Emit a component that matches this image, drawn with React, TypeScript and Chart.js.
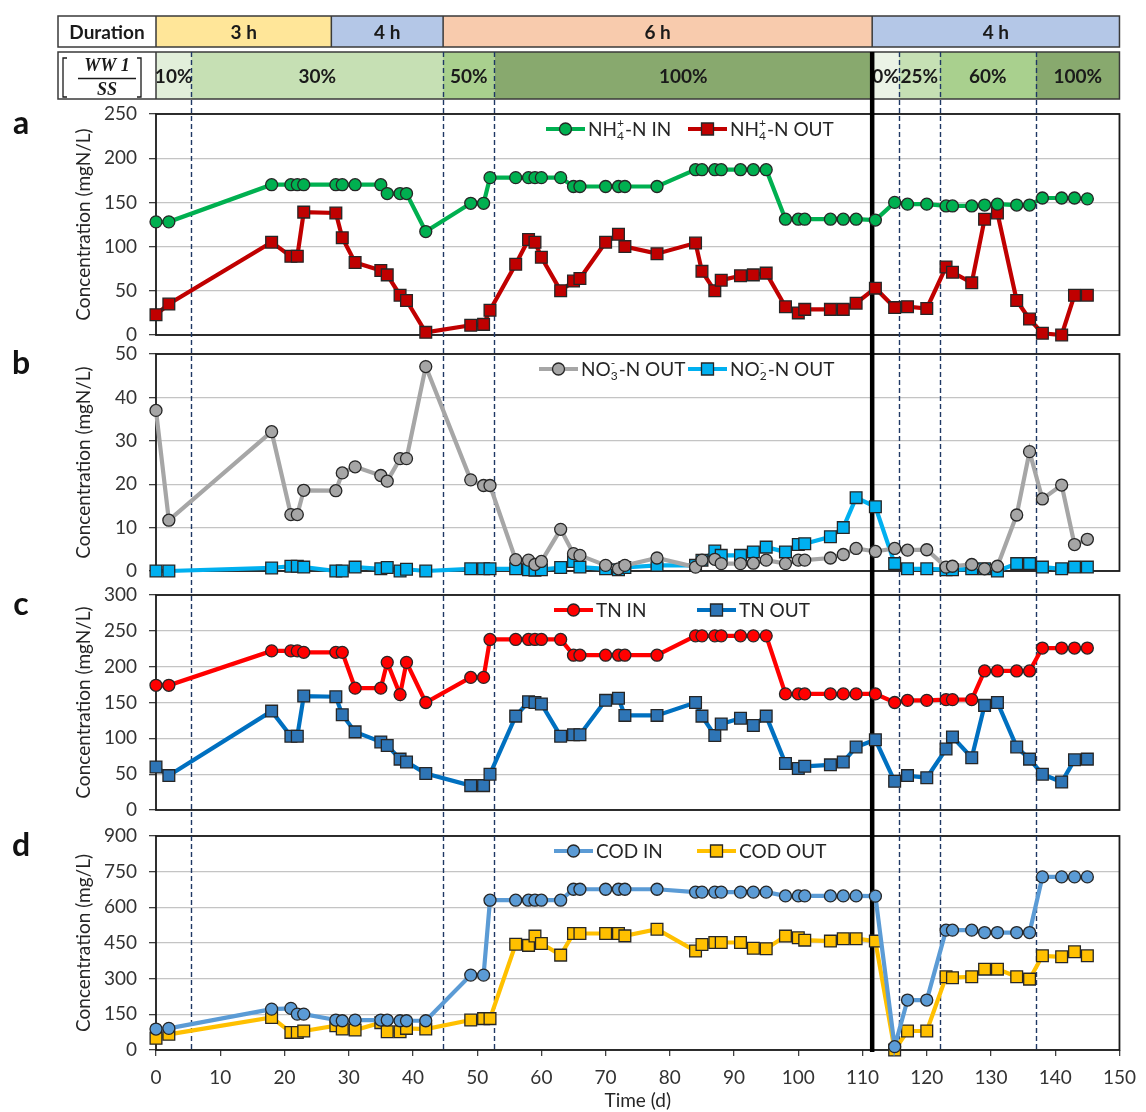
import React, { useEffect, useRef } from 'react';
import { Chart, registerables } from 'chart.js';

Chart.register(...registerables);

// ---------------- DATA ----------------
const days = [0, 2, 18, 21, 22, 23, 28, 29, 31, 35, 36, 38, 39, 42, 49, 51, 52, 56, 58, 59, 60, 63, 65, 66, 70, 72, 73, 78, 84, 85, 87, 88, 91, 93, 95, 98, 100, 101, 105, 107, 109, 112, 115, 117, 120, 123, 124, 127, 129, 131, 134, 136, 138, 141, 143, 145];

const nh4In = [128, 128, 170, 170, 170, 170, 170, 170, 170, 170, 160, 160, 160, 117, 149, 149, 178, 178, 178, 178, 178, 178, 168, 168, 168, 168, 168, 168, 187, 187, 187, 187, 187, 187, 187, 131, 131, 131, 131, 131, 131, 130, 150, 148, 148, 146, 146, 146, 147, 148, 147, 147, 155, 155, 155, 154];
const nh4Out = [23, 35, 105, 89, 89, 139, 138, 110, 82, 73, 68, 45, 39, 3, 11, 12, 28, 80, 108, 105, 88, 50, 61, 64, 105, 114, 100, 92, 104, 72, 50, 62, 67, 68, 70, 32, 25, 29, 29, 29, 36, 53, 31, 32, 30, 77, 71, 59, 131, 138, 39, 18, 2, 0, 45, 45];

const no3Out = [37, 11.7, 32.1, 13, 13, 18.6, 18.5, 22.6, 24, 22, 20.7, 25.9, 25.9, 47.1, 21, 19.7, 19.7, 2.6, 2.5, 1.5, 2.2, 9.6, 4, 3.6, 1.3, 0.5, 1.3, 3, 0.9, 2.5, 2.7, 1.7, 1.7, 1.8, 2.5, 1.7, 2.5, 2.5, 3, 3.8, 5.2, 4.5, 5.2, 4.8, 4.9, 0.9, 1.1, 1.5, 0.5, 1.1, 12.9, 27.5, 16.6, 19.8, 6.1, 7.3];
const no2Out = [0, 0, 0.7, 1.1, 1.1, 0.9, 0, 0, 0.9, 0.5, 0.8, 0, 0.4, 0, 0.5, 0.5, 0.5, 0.5, 0.3, 0.2, 0.3, 0.8, 2.2, 0.9, 0.5, 0.3, 0.8, 1.3, 1.3, 2.5, 4.6, 3.6, 3.6, 4.4, 5.5, 4.4, 6.1, 6.3, 7.9, 10, 16.9, 14.8, 1.7, 0.5, 0.5, 0.3, 0.3, 0.5, 0.5, 0, 1.7, 1.7, 0.9, 0.5, 0.9, 0.9];

const tnIn = [174, 174, 222, 222, 222, 220, 220, 220, 170, 170, 206, 161, 206, 150, 185, 185, 238, 238, 238, 238, 238, 238, 216, 216, 216, 216, 216, 216, 243, 243, 243, 243, 243, 243, 243, 162, 162, 162, 162, 162, 162, 162, 150, 153, 153, 154, 154, 154, 194, 194, 194, 194, 226, 226, 226, 226];
const tnOut = [60, 48, 138, 103, 103, 159, 158, 133, 109, 95, 90, 71, 67, 51, 34, 34, 50, 131, 151, 150, 148, 103, 105, 105, 153, 156, 132, 132, 150, 131, 104, 120, 128, 118, 131, 65, 58, 61, 63, 67, 88, 98, 40, 48, 45, 85, 102, 73, 146, 150, 88, 71, 50, 39, 70, 71];

const codIn = [88, 91, 172, 175, 151, 151, 126, 123, 126, 126, 126, 123, 123, 123, 315, 315, 630, 630, 630, 630, 630, 630, 676, 676, 676, 676, 676, 676, 664, 664, 664, 664, 664, 664, 664, 648, 648, 648, 648, 648, 648, 647, 14, 210, 210, 504, 504, 504, 494, 494, 494, 494, 728, 728, 728, 728];
const codOut = [49, 66, 137, 74, 74, 80, 102, 88, 84, 115, 77, 77, 91, 88, 126, 132, 132, 445, 440, 479, 448, 399, 490, 490, 490, 490, 480, 508, 416, 444, 452, 452, 452, 428, 426, 479, 472, 462, 458, 468, 468, 458, 0, 80, 80, 308, 304, 308, 340, 340, 308, 298, 396, 392, 413, 396];

const durationEdges = [0, 27.3, 44.7, 111.5, 150];
const durationLabels = ['3 h', '4 h', '6 h', '4 h'];
const ratioEdges = [0, 5.5, 44.7, 52.7, 111.5, 115.7, 122, 137, 150];
const ratioLabels = ['10%', '30%', '50%', '100%', '0%', '25%', '60%', '100%'];
const phaseChangeDays = [5.5, 44.7, 52.7, 115.7, 122, 137];
const configChangeDay = 111.5;

const xTicks = { min: 0, max: 150, step: 10 };
const yA = { min: 0, max: 250, step: 50 };
const yB = { min: 0, max: 50, step: 10 };
const yC = { min: 0, max: 300, step: 50 };
const yD = { min: 0, max: 900, step: 150 };

// ---------------- STYLE ----------------
const FONT = 'Lato, "Open Sans", "DejaVu Sans", sans-serif';
const W = 1146;
const H = 1112;
const PLOT_LEFT = 156;
const PLOT_RIGHT = 1131;
const PLOT_TOP = 114;
const X_AXIS_H = 62;
const Y_AXIS_W = 84;
const durationColors = ['#FFE699', '#B4C7E7', '#F8CBAD', '#B4C7E7'];
const ratioColors = ['#E2EFDA', '#C6E0B4', '#A9D08E', '#88A96E', '#EBF3E6', '#C6E0B4', '#A9D08E', '#88A96E'];
const ROW1 = { top: 16, bottom: 47 };
const ROW2 = { top: 52, bottom: 99 };
const BOX_LEFT = 58;

type Part = { t?: string; sub?: string; sup?: string };
type Series = {
  label: string; vals: number[]; axis: string; line: string; fill: string;
  shape: 'circle' | 'rect'; legend: Part[]; lx: number;
};

const SERIES: Series[] = [
  { label: 'NH4+-N IN', vals: nh4In, axis: 'yA', line: '#00B050', fill: '#00B050', shape: 'circle', legend: [{ t: 'NH' }, { sub: '4', sup: '+' }, { t: '-N IN' }], lx: 390 },
  { label: 'NH4+-N OUT', vals: nh4Out, axis: 'yA', line: '#C00000', fill: '#C00000', shape: 'rect', legend: [{ t: 'NH' }, { sub: '4', sup: '+' }, { t: '-N OUT' }], lx: 532 },
  { label: 'NO3--N OUT', vals: no3Out, axis: 'yB', line: '#A6A6A6', fill: '#A6A6A6', shape: 'circle', legend: [{ t: 'NO' }, { sub: '3', sup: '-' }, { t: '-N OUT' }], lx: 383 },
  { label: 'NO2--N OUT', vals: no2Out, axis: 'yB', line: '#00B0F0', fill: '#00B0F0', shape: 'rect', legend: [{ t: 'NO' }, { sub: '2', sup: '-' }, { t: '-N OUT' }], lx: 532 },
  { label: 'TN IN', vals: tnIn, axis: 'yC', line: '#FF0000', fill: '#FF0000', shape: 'circle', legend: [{ t: 'TN IN' }], lx: 398 },
  { label: 'TN OUT', vals: tnOut, axis: 'yC', line: '#0070C0', fill: '#2E75B6', shape: 'rect', legend: [{ t: 'TN OUT' }], lx: 541 },
  { label: 'COD IN', vals: codIn, axis: 'yD', line: '#5B9BD5', fill: '#5B9BD5', shape: 'circle', legend: [{ t: 'COD IN' }], lx: 398 },
  { label: 'COD OUT', vals: codOut, axis: 'yD', line: '#FFC000', fill: '#FFC000', shape: 'rect', legend: [{ t: 'COD OUT' }], lx: 541 },
];

const PANELS = [
  { id: 'yA', letter: 'a', title: 'Concentration (mgN/L)', r: yA, h: 221 },
  { id: 'yB', letter: 'b', title: 'Concentration (mgN/L)', r: yB, h: 217 },
  { id: 'yC', letter: 'c', title: 'Concentration (mgN/L)', r: yC, h: 215 },
  { id: 'yD', letter: 'd', title: 'Concentration (mg/L)', r: yD, h: 214 },
];
const GAPS = [19, 24, 26];

function drawMarker(ctx: CanvasRenderingContext2D, x: number, y: number, shape: string, fill: string) {
  ctx.beginPath();
  if (shape === 'circle') ctx.arc(x, y, 6, 0, Math.PI * 2);
  else ctx.rect(x - 6, y - 6, 12, 12);
  ctx.fillStyle = fill;
  ctx.fill();
  ctx.lineWidth = 1.3;
  ctx.strokeStyle = '#262626';
  ctx.stroke();
}

function drawRich(ctx: CanvasRenderingContext2D, x: number, y: number, parts: Part[], size: number) {
  let cx = x;
  ctx.textAlign = 'left';
  ctx.textBaseline = 'middle';
  for (const p of parts) {
    if (p.t) {
      ctx.font = `${size}px ${FONT}`;
      ctx.fillText(p.t, cx, y);
      cx += ctx.measureText(p.t).width;
    } else {
      const s = Math.round(size * 0.62);
      ctx.font = `${s}px ${FONT}`;
      let w = 0;
      if (p.sub) { ctx.fillText(p.sub, cx, y + size * 0.3); w = Math.max(w, ctx.measureText(p.sub).width); }
      if (p.sup) { ctx.fillText(p.sup, cx, y - size * 0.38); w = Math.max(w, ctx.measureText(p.sup).width); }
      cx += w + 1;
    }
  }
}

const decorPlugin = {
  id: 'decor',
  beforeDraw(chart: any) {
    const { ctx, scales } = chart;
    const xs = scales.x;
    const px = (d: number) => xs.getPixelForValue(d);
    ctx.save();
    // Row 1: Duration
    for (let i = 0; i < durationLabels.length; i++) {
      const x0 = px(durationEdges[i]);
      const x1 = px(durationEdges[i + 1]);
      ctx.fillStyle = durationColors[i];
      ctx.fillRect(x0, ROW1.top, x1 - x0, ROW1.bottom - ROW1.top);
    }
    ctx.strokeStyle = '#3a3a3a';
    ctx.lineWidth = 1.5;
    ctx.strokeRect(BOX_LEFT, ROW1.top, px(150) - BOX_LEFT, ROW1.bottom - ROW1.top);
    ctx.beginPath();
    for (let i = 0; i < durationEdges.length - 1; i++) {
      const x = px(durationEdges[i]);
      ctx.moveTo(x, ROW1.top);
      ctx.lineTo(x, ROW1.bottom);
    }
    ctx.stroke();
    ctx.fillStyle = '#1a1a1a';
    ctx.font = `bold 19px ${FONT}`;
    ctx.textAlign = 'center';
    ctx.textBaseline = 'middle';
    const r1c = (ROW1.top + ROW1.bottom) / 2 + 1;
    ctx.fillText('Duration', (BOX_LEFT + px(0)) / 2, r1c);
    for (let i = 0; i < durationLabels.length; i++) {
      ctx.fillText(durationLabels[i], (px(durationEdges[i]) + px(durationEdges[i + 1])) / 2, r1c);
    }
    // Row 2: WW1/SS ratio
    for (let i = 0; i < ratioLabels.length; i++) {
      const x0 = px(ratioEdges[i]);
      const x1 = px(ratioEdges[i + 1]);
      ctx.fillStyle = ratioColors[i];
      ctx.fillRect(x0, ROW2.top, x1 - x0, ROW2.bottom - ROW2.top);
    }
    ctx.strokeStyle = '#3a3a3a';
    ctx.lineWidth = 1.5;
    ctx.strokeRect(BOX_LEFT, ROW2.top, px(150) - BOX_LEFT, ROW2.bottom - ROW2.top);
    ctx.beginPath();
    ctx.moveTo(px(0), ROW2.top);
    ctx.lineTo(px(0), ROW2.bottom);
    ctx.stroke();
    ctx.fillStyle = '#1a1a1a';
    ctx.font = `bold 19px ${FONT}`;
    const r2c = (ROW2.top + ROW2.bottom) / 2 + 1;
    for (let i = 0; i < ratioLabels.length; i++) {
      ctx.fillText(ratioLabels[i], (px(ratioEdges[i]) + px(ratioEdges[i + 1])) / 2, r2c);
    }
    // fraction [WW1/SS]
    const fx = (BOX_LEFT + px(0)) / 2;
    ctx.font = `italic bold 18px "Liberation Serif", "DejaVu Serif", serif`;
    ctx.fillText('WW 1', fx, 66);
    ctx.fillText('SS', fx, 90);
    ctx.beginPath();
    ctx.lineWidth = 1.3;
    ctx.strokeStyle = '#1a1a1a';
    ctx.moveTo(fx - 29, 78.5);
    ctx.lineTo(fx + 29, 78.5);
    // brackets
    ctx.moveTo(fx - 40, 58); ctx.lineTo(fx - 44, 58); ctx.lineTo(fx - 44, 97); ctx.lineTo(fx - 40, 97);
    ctx.moveTo(fx + 30, 58); ctx.lineTo(fx + 34, 58); ctx.lineTo(fx + 34, 97); ctx.lineTo(fx + 30, 97);
    ctx.stroke();
    // panel letters
    ctx.font = `bold 32px ${FONT}`;
    ctx.fillStyle = '#111';
    ctx.textAlign = 'center';
    for (const p of PANELS) {
      const s = scales[p.id];
      ctx.fillText(p.letter, 21, s.top + 10);
    }
    ctx.restore();
  },
  beforeDatasetsDraw(chart: any) {
    const { ctx, scales, chartArea } = chart;
    const xs = scales.x;
    ctx.save();
    // panel borders
    ctx.strokeStyle = '#1a1a1a';
    ctx.lineWidth = 1.8;
    for (const p of PANELS) {
      const s = scales[p.id];
      ctx.strokeRect(chartArea.left, s.top, chartArea.right - chartArea.left, s.bottom - s.top);
    }
    const bottom = scales.yD.bottom;
    // dashed phase lines
    ctx.strokeStyle = '#1F3864';
    ctx.lineWidth = 1.4;
    ctx.setLineDash([5, 3]);
    ctx.beginPath();
    for (const d of phaseChangeDays) {
      const x = Math.round(xs.getPixelForValue(d)) + 0.5;
      ctx.moveTo(x, ROW2.top);
      ctx.lineTo(x, bottom);
    }
    ctx.stroke();
    ctx.setLineDash([]);
    // thick configuration change line
    ctx.strokeStyle = '#000';
    ctx.lineWidth = 4.5;
    ctx.beginPath();
    const xc = xs.getPixelForValue(configChangeDay);
    ctx.moveTo(xc, ROW2.top);
    ctx.lineTo(xc, bottom + 2);
    ctx.stroke();
    ctx.restore();
  },
  afterDatasetsDraw(chart: any) {
    const { ctx, scales, chartArea } = chart;
    ctx.save();
    for (const s of SERIES) {
      const sc = scales[s.axis];
      const y = sc.top + 15;
      const x0 = chartArea.left + s.lx;
      ctx.strokeStyle = s.line;
      ctx.lineWidth = 4.2;
      ctx.beginPath();
      ctx.moveTo(x0, y);
      ctx.lineTo(x0 + 39, y);
      ctx.stroke();
      drawMarker(ctx, x0 + 19.5, y, s.shape, s.fill);
      ctx.fillStyle = '#262626';
      drawRich(ctx, x0 + 42, y + 1, s.legend, 19);
    }
    ctx.restore();
  },
};

export default function App() {
  const ref = useRef<HTMLCanvasElement>(null);
  useEffect(() => {
    const canvas = ref.current;
    if (!canvas) return;
    Chart.defaults.font.family = FONT;
    const tickFont = { family: FONT, size: 19 };
    const datasets = SERIES.map((s) => ({
      label: s.label,
      data: days.map((d, i) => ({ x: d, y: s.vals[i] })),
      yAxisID: s.axis,
      xAxisID: 'x',
      borderColor: s.line,
      backgroundColor: s.fill,
      borderWidth: 4.2,
      pointStyle: s.shape,
      pointRadius: s.shape === 'rect' ? 8.3 : 6,
      pointBackgroundColor: s.fill,
      pointBorderColor: '#262626',
      pointBorderWidth: 1.3,
      tension: 0,
      clip: false,
    }));
    const scales: any = {
      x: {
        type: 'linear',
        position: 'bottom',
        min: xTicks.min,
        max: xTicks.max,
        ticks: { stepSize: xTicks.step, autoSkip: false, maxRotation: 0, padding: 10, color: '#333', font: tickFont },
        grid: { drawOnChartArea: false, tickLength: 6, tickColor: '#404040', lineWidth: 1.3 },
        border: { display: false },
        title: { display: true, text: 'Time (d)', color: '#262626', font: tickFont, padding: 0 },
        afterFit: (s: any) => { s.height = X_AXIS_H; },
      },
    };
    const weights = PANELS.length * 2;
    PANELS.forEach((p, i) => {
      scales[p.id] = {
        type: 'linear',
        position: 'left',
        stack: 'panels',
        stackWeight: p.h,
        weight: weights - i * 2,
        min: p.r.min,
        max: p.r.max,
        ticks: { stepSize: p.r.step, autoSkip: false, padding: 12, color: '#333', font: tickFont },
        grid: { color: '#C4C4C4', lineWidth: 1.3, tickLength: 7, tickColor: '#404040' },
        border: { display: false },
        title: { display: true, text: p.title, color: '#262626', font: tickFont, padding: 0 },
        afterFit: (s: any) => { s.width = Y_AXIS_W; },
      };
      if (i < GAPS.length) {
        scales['gap' + i] = {
          type: 'linear',
          position: 'left',
          stack: 'panels',
          stackWeight: GAPS[i],
          weight: weights - i * 2 - 1,
          ticks: { display: false },
          grid: { display: false },
          border: { display: false },
        };
      }
    });
    const chart = new Chart(canvas, {
      type: 'line',
      data: { datasets: datasets as any },
      options: {
        responsive: false,
        animation: false,
        devicePixelRatio: 1,
        layout: { padding: { left: PLOT_LEFT - Y_AXIS_W, right: W - PLOT_RIGHT, top: PLOT_TOP, bottom: 0 } },
        plugins: { legend: { display: false }, tooltip: { enabled: false }, title: { display: false } },
        scales,
      },
      plugins: [decorPlugin as any],
    });
    return () => chart.destroy();
  }, []);
  return (
    <div style={{ position: 'absolute', left: 0, top: 0, width: W, height: H, background: '#fff' }}>
      <canvas ref={ref} width={W} height={H} style={{ display: 'block', width: W, height: H }} />
    </div>
  );
}
